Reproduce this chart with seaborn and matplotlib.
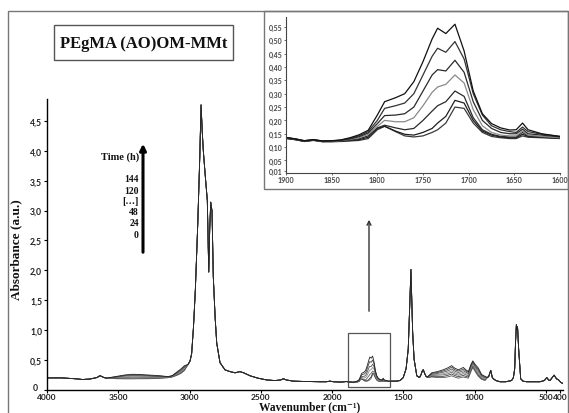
import matplotlib
matplotlib.use("Agg")
import matplotlib.pyplot as plt
import numpy as np
import pandas as pd
import seaborn as sns
from matplotlib.patches import Rectangle, FancyArrowPatch
from matplotlib.transforms import ScaledTranslation

# ---------------------------------------------------------------------------
# FTIR spectra of PEgMA (AO)OM-MMt after 0 ... 144 h of photo-oxidation
# ---------------------------------------------------------------------------
time_h = [0, 24, 48, 72, 96, 120, 144]

# 4000-3590 cm-1 : identical for all exposure times
wn_a = [4000, 3900, 3800, 3750, 3700, 3650, 3628, 3605, 3585]
abs_a = [0.195, 0.195, 0.180, 0.168, 0.175, 0.200, 0.232, 0.205, 0.190]

# 3560-3035 cm-1 : hydroxyl region, grows with time
wn_oh = [3560, 3500, 3450, 3400, 3350, 3300, 3250, 3200, 3150, 3120, 3090, 3060, 3035]
abs_oh = [
    [0.185, 0.180, 0.178, 0.178, 0.180, 0.180, 0.183, 0.188, 0.198, 0.210, 0.235, 0.270, 0.320],
    [0.188, 0.188, 0.190, 0.192, 0.192, 0.190, 0.192, 0.195, 0.200, 0.214, 0.244, 0.280, 0.330],
    [0.190, 0.195, 0.202, 0.206, 0.205, 0.202, 0.200, 0.200, 0.202, 0.218, 0.252, 0.292, 0.340],
    [0.192, 0.203, 0.214, 0.220, 0.218, 0.214, 0.209, 0.206, 0.205, 0.222, 0.260, 0.305, 0.355],
    [0.195, 0.210, 0.226, 0.234, 0.232, 0.226, 0.219, 0.213, 0.208, 0.226, 0.270, 0.318, 0.370],
    [0.197, 0.218, 0.236, 0.245, 0.243, 0.236, 0.229, 0.221, 0.212, 0.230, 0.280, 0.332, 0.385],
    [0.200, 0.225, 0.245, 0.255, 0.252, 0.245, 0.238, 0.230, 0.215, 0.235, 0.290, 0.345, 0.400],
]

# 3010-1910 cm-1 : C-H stretching bands and baseline
wn_ch = [3010, 2996, 2985, 2972, 2959, 2942, 2928, 2919, 2910, 2903, 2890, 2875, 2865,
         2858, 2851, 2846, 2842, 2833, 2820, 2809, 2786, 2751, 2716, 2680, 2646, 2620,
         2575, 2520, 2458, 2400, 2360, 2342, 2320, 2272, 2200, 2084, 2040, 2014, 1990,
         1940, 1910]
abs_ch = [0.42, 0.48, 0.60, 1.05, 1.67, 2.78, 3.89, 4.77, 4.30, 4.00, 3.60, 3.17, 1.97,
          2.70, 3.14, 3.05, 3.00, 1.89, 1.20, 0.78, 0.45, 0.33, 0.30, 0.28, 0.30, 0.28,
          0.23, 0.19, 0.16, 0.15, 0.16, 0.18, 0.16, 0.14, 0.135, 0.13, 0.13, 0.14, 0.13,
          0.125, 0.13]

# 1900-1600 cm-1 : carbonyl region (also shown enlarged)
wn_co = [1900, 1890, 1880, 1870, 1860, 1850, 1840, 1830, 1820, 1810, 1800, 1792, 1780,
         1770, 1760, 1750, 1740, 1734, 1725, 1715, 1705, 1695, 1685, 1675, 1665, 1655,
         1648, 1641, 1635, 1620, 1600]
abs_co = [
    [0.132, 0.128, 0.121, 0.125, 0.120, 0.120, 0.121, 0.123, 0.125, 0.132, 0.165, 0.178, 0.158,
     0.142, 0.138, 0.142, 0.155, 0.165, 0.190, 0.250, 0.245, 0.190, 0.155, 0.140, 0.135, 0.132,
     0.132, 0.142, 0.137, 0.135, 0.132],
    [0.133, 0.128, 0.122, 0.126, 0.121, 0.121, 0.122, 0.125, 0.128, 0.137, 0.170, 0.178, 0.160,
     0.148, 0.145, 0.155, 0.170, 0.190, 0.215, 0.275, 0.265, 0.200, 0.160, 0.145, 0.138, 0.135,
     0.135, 0.148, 0.140, 0.137, 0.133],
    [0.134, 0.129, 0.122, 0.126, 0.121, 0.122, 0.123, 0.127, 0.131, 0.142, 0.172, 0.182, 0.172,
     0.165, 0.170, 0.200, 0.235, 0.255, 0.270, 0.310, 0.290, 0.210, 0.165, 0.148, 0.140, 0.138,
     0.138, 0.155, 0.142, 0.138, 0.134],
    [0.135, 0.130, 0.123, 0.127, 0.122, 0.122, 0.124, 0.129, 0.135, 0.148, 0.178, 0.200, 0.195,
     0.195, 0.210, 0.255, 0.305, 0.325, 0.335, 0.370, 0.340, 0.240, 0.180, 0.155, 0.145, 0.142,
     0.142, 0.160, 0.145, 0.140, 0.135],
    [0.135, 0.130, 0.123, 0.127, 0.122, 0.123, 0.125, 0.131, 0.139, 0.153, 0.188, 0.218, 0.220,
     0.225, 0.250, 0.310, 0.370, 0.390, 0.385, 0.425, 0.380, 0.270, 0.200, 0.170, 0.155, 0.150,
     0.150, 0.167, 0.150, 0.145, 0.138],
    [0.136, 0.131, 0.124, 0.128, 0.123, 0.123, 0.126, 0.133, 0.142, 0.158, 0.200, 0.245, 0.255,
     0.265, 0.300, 0.370, 0.440, 0.470, 0.455, 0.495, 0.430, 0.300, 0.220, 0.180, 0.165, 0.158,
     0.155, 0.175, 0.158, 0.148, 0.140],
    [0.136, 0.131, 0.124, 0.128, 0.123, 0.124, 0.127, 0.135, 0.146, 0.163, 0.220, 0.270, 0.285,
     0.300, 0.345, 0.420, 0.505, 0.545, 0.525, 0.560, 0.460, 0.310, 0.225, 0.188, 0.172, 0.164,
     0.165, 0.190, 0.165, 0.150, 0.140],
]

# 1590-1340 cm-1 : CH2 bending
wn_bend = [1590, 1550, 1523, 1500, 1480, 1465, 1455, 1446, 1440, 1434, 1424, 1405, 1386,
           1375, 1365, 1359, 1350, 1340]
abs_bend = [0.14, 0.14, 0.15, 0.20, 0.35, 0.68, 1.40, 2.01, 1.50, 0.96, 0.51, 0.23, 0.20,
            0.25, 0.32, 0.33, 0.27, 0.22]

# 1330-926 cm-1 : C-O / Si-O region, grows with time
wn_fp = [1330, 1300, 1260, 1220, 1190, 1160, 1140, 1114, 1095, 1079, 1060, 1043, 1025,
         1012, 995, 973, 950, 926]
abs_fp = [
    [0.200, 0.210, 0.200, 0.200, 0.210, 0.230, 0.210, 0.190, 0.200, 0.210, 0.200, 0.190, 0.300,
     0.370, 0.300, 0.220, 0.170, 0.150],
    [0.200, 0.220, 0.220, 0.220, 0.235, 0.260, 0.235, 0.215, 0.225, 0.235, 0.220, 0.210, 0.320,
     0.390, 0.320, 0.240, 0.180, 0.160],
    [0.205, 0.235, 0.240, 0.245, 0.260, 0.290, 0.260, 0.240, 0.250, 0.265, 0.245, 0.230, 0.340,
     0.410, 0.340, 0.260, 0.195, 0.170],
    [0.205, 0.245, 0.255, 0.265, 0.285, 0.315, 0.285, 0.260, 0.275, 0.290, 0.265, 0.250, 0.360,
     0.430, 0.360, 0.285, 0.210, 0.185],
    [0.210, 0.255, 0.270, 0.290, 0.310, 0.345, 0.310, 0.285, 0.300, 0.315, 0.290, 0.265, 0.380,
     0.450, 0.380, 0.310, 0.225, 0.195],
    [0.210, 0.270, 0.285, 0.310, 0.335, 0.375, 0.335, 0.310, 0.325, 0.345, 0.310, 0.285, 0.400,
     0.465, 0.400, 0.335, 0.240, 0.210],
    [0.210, 0.280, 0.300, 0.330, 0.360, 0.400, 0.360, 0.330, 0.350, 0.370, 0.330, 0.300, 0.420,
     0.480, 0.420, 0.360, 0.250, 0.220],
]

# 910-380 cm-1 : CH2 rocking and low-frequency bands
wn_low = [910, 900, 886, 875, 868, 850, 821, 780, 740, 727, 718, 712, 706, 702, 698, 690,
          676, 660, 634, 580, 540, 510, 493, 480, 470, 455, 441, 425, 410, 395, 380]
abs_low = [0.20, 0.22, 0.32, 0.20, 0.18, 0.15, 0.13, 0.13, 0.15, 0.20, 0.35, 0.80, 1.09,
           1.00, 1.05, 0.67, 0.18, 0.14, 0.13, 0.13, 0.13, 0.15, 0.20, 0.16, 0.15, 0.20,
           0.24, 0.18, 0.16, 0.12, 0.10]

line_colors = ["#3a3a3a", "#1e1e1e", "#2a2a2a", "#8a8a8a", "#2a2a2a", "#333333", "#111111"]
main_colors = ["#555555", "#444444", "#666666", "#8a8a8a", "#555555", "#444444", "#222222"]

# assemble the full spectra in long form
rows = []
for i, t in enumerate(time_h):
    wn = wn_a + wn_oh + wn_ch + wn_co + wn_bend + wn_fp + wn_low
    ab = abs_a + abs_oh[i] + abs_ch + abs_co[i] + abs_bend + abs_fp[i] + abs_low
    rows.append(pd.DataFrame({"wn": wn, "A": ab, "time": str(t)}))
full = pd.concat(rows, ignore_index=True)

rows = []
for i, t in enumerate(time_h):
    rows.append(pd.DataFrame({"wn": wn_co, "A": abs_co[i], "time": str(t)}))
zoom = pd.concat(rows, ignore_index=True)

sns.set_theme(style="ticks")
plt.rcParams["font.family"] = ["Lato", "DejaVu Sans"]

W, H = 569, 414
fig = plt.figure(figsize=(W / 100, H / 100), dpi=100)
fig.patch.set_facecolor("white")
SERIF = ["Liberation Serif", "DejaVu Serif"]


def fx(x):
    return x / W


def fy(y):
    return 1 - y / H


# ---------------- main spectrum ----------------
ax = fig.add_axes([fx(47), fy(390.5), fx(563 - 47), (390.5 - 100) / H])
sns.lineplot(data=full, x="wn", y="A", hue="time",
             palette={str(t): c for t, c in zip(time_h, main_colors)}, estimator=None,
             sort=False, legend=False, lw=0.6, ax=ax)
ax.set_xlim(4000, 379)
ax.set_ylim(0, 4.87)
ax.set_xlabel("")
ax.set_ylabel("")
for s in ("top", "right"):
    ax.spines[s].set_visible(False)
for s in ("left", "bottom"):
    ax.spines[s].set_color("black")
    ax.spines[s].set_linewidth(1.0)

xt = [4000, 3500, 3000, 2500, 2000, 1500, 1000, 500, 400]
ax.set_xticks(xt)
ax.set_xticklabels([str(v) for v in xt], fontweight="bold", fontsize=6.0, color="#222222")
yt = [0, 0.5, 1.0, 1.5, 2.0, 2.5, 3.0, 3.5, 4.0, 4.5]
ax.set_yticks(yt)
ax.set_yticklabels(["0" if v == 0 else f"{v:.1f}".replace(".", ",") for v in yt],
                   fontweight="bold", fontsize=6.2, color="#222222")
ax.tick_params(axis="y", length=2.5, width=0.8, pad=1.0, color="black")
ax.tick_params(axis="x", length=2.0, width=0.8, pad=0.5, color="black")
# the zero label sits a little further left, clear of the first wavenumber label
zero_lab = ax.get_yticklabels()[0]
zero_lab.set_transform(zero_lab.get_transform()
                       + ScaledTranslation(-3 / 72, 2 / 72, fig.dpi_scale_trans))

# frame marking the enlarged carbonyl region
ax.add_patch(Rectangle((1590, 0.05), 295, 0.90, fill=False, ec="#555555", lw=0.9))

# ---------------- enlarged carbonyl region ----------------
ins = fig.add_axes([fx(286), fy(173.5), fx(560 - 286), 155.5 / H])
sns.lineplot(data=zoom, x="wn", y="A", hue="time",
             palette={str(t): c for t, c in zip(time_h, line_colors)}, estimator=None,
             sort=False, legend=False, lw=0.9, ax=ins)
ins.set_xlim(1900, 1600)
ins.set_ylim(0.005, 0.587)
ins.set_xlabel("")
ins.set_ylabel("")
for s in ("top", "right"):
    ins.spines[s].set_visible(False)
for s in ("left", "bottom"):
    ins.spines[s].set_color("#444444")
    ins.spines[s].set_linewidth(0.8)
ixt = [1900, 1850, 1800, 1750, 1700, 1650, 1600]
ins.set_xticks(ixt)
ins.set_xticklabels([str(v) for v in ixt], fontsize=5.2, fontweight="bold", color="#444444")
iyt = [0.01, 0.05, 0.10, 0.15, 0.20, 0.25, 0.30, 0.35, 0.40, 0.45, 0.50, 0.55]
ins.set_yticks(iyt)
ins.set_yticklabels([f"{v:.2f}".replace(".", ",") for v in iyt], fontsize=5.0,
                    fontweight="bold", color="#444444")
ins.tick_params(axis="both", length=1.5, width=0.6, pad=1, color="#555555")

# ---------------- frames ----------------
fig.add_artist(Rectangle((fx(8), fy(420)), fx(568 - 8), (420 - 12) / H, fill=False,
                         ec="#777777", lw=1.0, transform=fig.transFigure))
fig.add_artist(Rectangle((fx(264), fy(190)), fx(568 - 264), (190 - 12) / H, fill=False,
                         ec="#777777", lw=1.0, transform=fig.transFigure))
fig.add_artist(Rectangle((fx(54), fy(61)), fx(233 - 54), (61 - 26) / H, fill=False,
                         ec="#555555", lw=1.0, transform=fig.transFigure))
fig.text(fx(143.5), fy(43.5), "PEgMA (AO)OM-MMt", ha="center", va="center",
         family=SERIF, fontweight="bold", fontsize=12, color="#111111")

# ---------------- axis titles ----------------
fig.text(fx(16), fy(250), "Absorbance (a.u.)", rotation=90, ha="center", va="center",
         family=SERIF, fontweight="bold", fontsize=9.5, color="#111111")
fig.text(fx(310), fy(413.5), "Wavenumber (cm\u207b\u00b9)", ha="center", va="bottom",
         family=SERIF, fontweight="bold", fontsize=8.3, color="#111111")

# ---------------- time arrow and labels ----------------
fig.add_artist(FancyArrowPatch((fx(143), fy(256)), (fx(143), fy(142)),
                               transform=fig.transFigure, arrowstyle="-|>",
                               mutation_scale=9, lw=2.2, color="black"))
fig.text(fx(139), fy(157), "Time (h)", ha="right", va="center", family=SERIF,
         fontweight="bold", fontsize=7.5, color="#111111")
for lab, yy in zip(["144", "120", "[…]", "48", "24", "0"], [180, 191, 202, 213, 224, 236]):
    fig.text(fx(139), fy(yy), lab, ha="right", va="center", family=SERIF,
             fontweight="bold", fontsize=7, color="#111111")

fig.add_artist(FancyArrowPatch((fx(369), fy(315)), (fx(369), fy(218)),
                               transform=fig.transFigure, arrowstyle="->",
                               mutation_scale=7, lw=1.0, color="#333333"))

fig.savefig("out.png", dpi=100, facecolor="white")
